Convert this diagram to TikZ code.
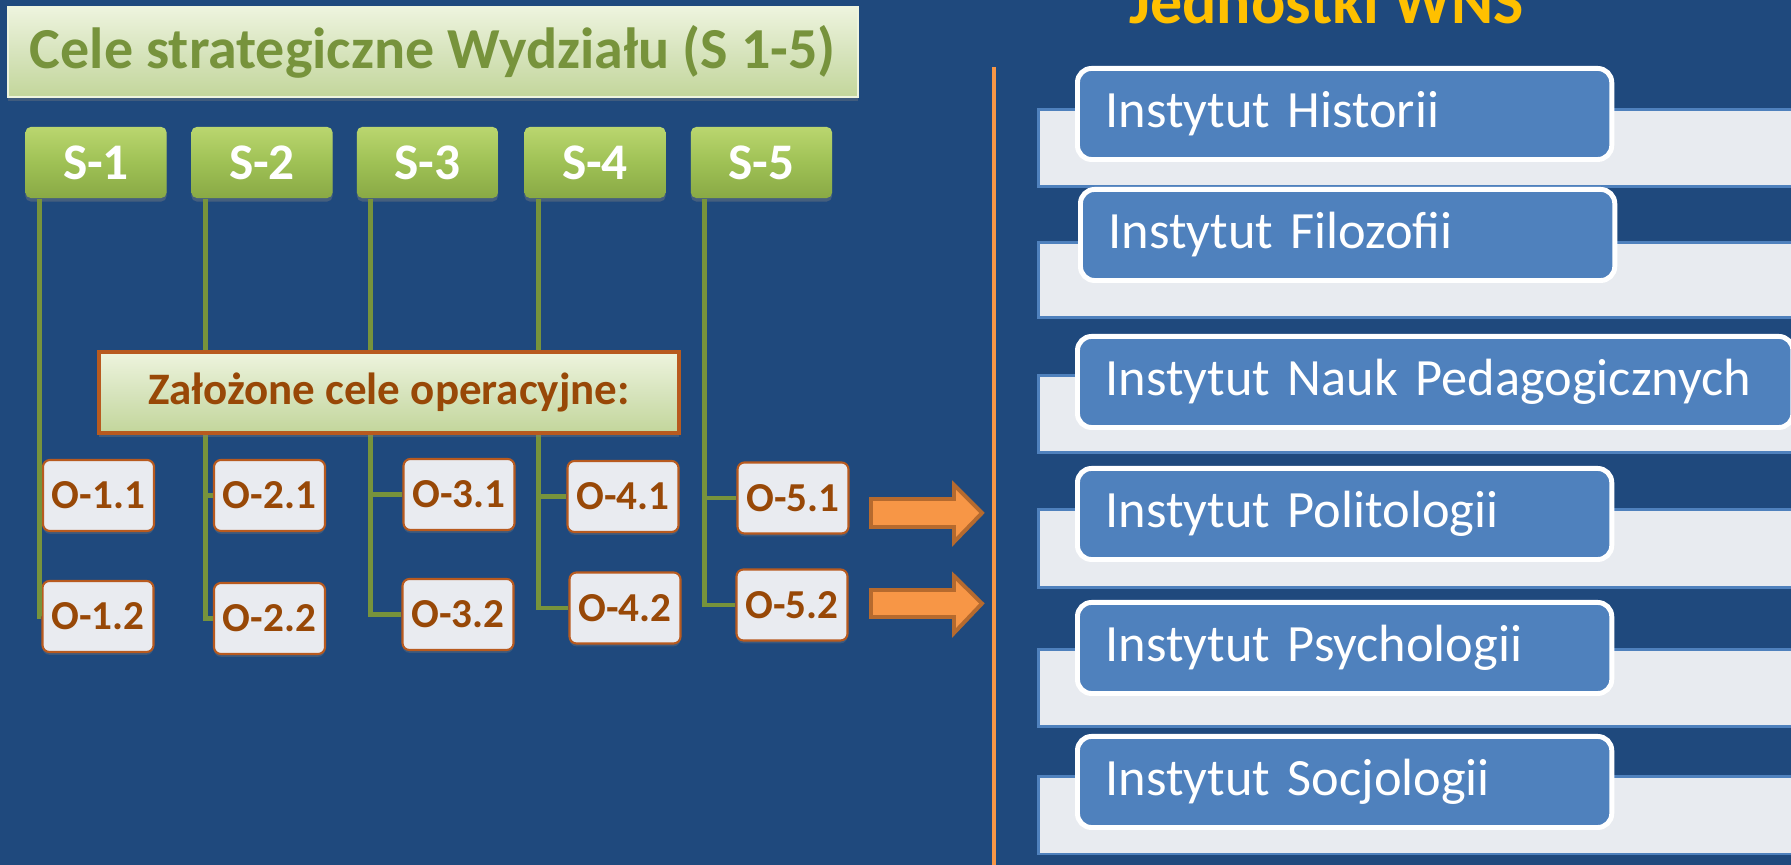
\documentclass[tikz,border=0pt]{standalone}
\usepackage{fontspec}
\setmainfont{Carlito}
\usetikzlibrary{shadows}

\definecolor{tlo}{HTML}{1F497D}
\definecolor{jasnaziel}{HTML}{D7E4BD}
\definecolor{jasnazielgora}{HTML}{EEF4DE}
\definecolor{jasnazieldol}{HTML}{C3D69B}
\definecolor{oliwka}{HTML}{77933C}
\definecolor{zielgora}{HTML}{BAD66F}
\definecolor{zielsrodek}{HTML}{9FC155}
\definecolor{zieldol}{HTML}{89A945}
\definecolor{brazowy}{HTML}{984807}
\definecolor{obrzeze}{HTML}{B85A1F}
\definecolor{oszary}{HTML}{E9EBF0}
\definecolor{pomarancz}{HTML}{F79646}
\definecolor{pomarancztlo}{HTML}{B66A2E}
\definecolor{niebieski}{HTML}{4F81BD}
\definecolor{szary}{HTML}{E8EBF0}
\definecolor{zolty}{HTML}{FFC000}

\begin{document}
\begin{tikzpicture}[x=0.01cm,y=-0.01cm,
  tytul/.style={draw=jasnazielgora, line width=0.5pt, top color=jasnazielgora, bottom color=jasnazieldol, middle color=jasnaziel,
    inner sep=0pt, drop shadow={shadow xshift=0pt, shadow yshift=-1.2pt, opacity=0.35}},
  celS/.style={rounded corners=1.5pt, top color=zielgora, bottom color=zieldol, middle color=zielsrodek,
    minimum width=1.41cm, minimum height=0.71cm, inner sep=0pt, text=white,
    font=\fontsize{14.6}{16}\selectfont\bfseries,
    drop shadow={shadow xshift=0pt, shadow yshift=-1pt, opacity=0.4}},
  celO/.style={draw=obrzeze, line width=0.6pt, fill=oszary, rounded corners=2pt,
    minimum width=1.11cm, minimum height=0.71cm, inner sep=0pt, text=brazowy,
    font=\fontsize{11.7}{13}\selectfont\bfseries,
    drop shadow={shadow xshift=0pt, shadow yshift=-0.8pt, opacity=0.3}},
  link/.style={draw=oliwka, line width=1.4pt},
  strzalka/.style={fill=pomarancz, draw=pomarancztlo, line width=1.1pt},
  pasek/.style={fill=szary, draw=niebieski, line width=0.85pt},
  inst/.style={anchor=north west, fill=niebieski, draw=white, line width=1.4pt, rounded corners=4pt,
    inner xsep=0.28cm, inner ysep=0pt, minimum height=0.91cm, text=white, align=left,
    font=\fontsize{14.9}{17}\selectfont}]

\useasboundingbox (0,0) rectangle (1791,865);
\clip (0,0) rectangle (1791,865);
\fill[tlo] (0,0) rectangle (1791,865);

\node[tytul, minimum width=8.5cm, minimum height=0.9cm, text=oliwka, font=\fontsize{16.5}{19}\selectfont\bfseries]
  (cele) at (433,52) {Cele strategiczne Wydziału (S 1-5)};

\node[celS] (s1) at (96,162.5) {S-1};
\node[celS] (s2) at (262,162.5) {S-2};
\node[celS] (s3) at (427.5,162.5) {S-3};
\node[celS] (s4) at (595,162.5) {S-4};
\node[celS] (s5) at (761.5,162.5) {S-5};

\node[celO] (o11) at (98.5,495.5) {O-1.1};
\node[celO] (o21) at (269.5,495.5) {O-2.1};
\node[celO] (o31) at (459,494.5) {O-3.1};
\node[celO] (o41) at (623,496.5) {O-4.1};
\node[celO] (o51) at (793,498) {O-5.1};
\node[celO] (o12) at (98,616.5) {O-1.2};
\node[celO] (o22) at (269.5,618.5) {O-2.2};
\node[celO] (o32) at (458,614.5) {O-3.2};
\node[celO] (o42) at (625,608) {O-4.2};
\node[celO] (o52) at (792,605) {O-5.2};

\draw[link] (s1.south west) ++(14.5,0) |- (o12.west);
\draw[link] (s1.south west) ++(14.5,0) |- (o11.west);
\draw[link] (s2.south west) ++(14.5,0) |- (o22.west);
\draw[link] (s2.south west) ++(14.5,0) |- (o21.west);
\draw[link] (s3.south west) ++(14.5,0) |- (o32.west);
\draw[link] (s3.south west) ++(14.5,0) |- (o31.west);
\draw[link] (s4.south west) ++(14.5,0) |- (o42.west);
\draw[link] (s4.south west) ++(14.5,0) |- (o41.west);
\draw[link] (s5.south west) ++(14.5,0) |- (o52.west);
\draw[link] (s5.south west) ++(14.5,0) |- (o51.west);

\node[tytul, draw=obrzeze, line width=1pt, minimum width=5.8cm, minimum height=0.81cm, text=brazowy,
  font=\fontsize{12.8}{15}\selectfont\bfseries] (zalozone) at (389,392.5) {Założone cele operacyjne:};

\draw[strzalka] (871,499) -- (954,499) -- (954,485) -- (982,513) -- (954,542) -- (954,527) -- (871,527) -- cycle;
\draw[strzalka] (871,590) -- (954,590) -- (954,576) -- (982,603.5) -- (954,633) -- (954,617) -- (871,617) -- cycle;

\draw[pomarancz, line width=1.4pt] (994,67) -- (994,865);

\node[font=\fontsize{18.2}{21}\selectfont\bfseries, text=zolty, anchor=base] (jednostki) at (1326.5,24) {Jednostki WNS};

\draw[pasek] (1038,110) rectangle (1800,187);
\draw[pasek] (1038,243) rectangle (1800,318);
\draw[pasek] (1038,376) rectangle (1800,453);
\draw[pasek] (1038,510) rectangle (1800,588);
\draw[pasek] (1038,650) rectangle (1800,727);
\draw[pasek] (1038,777) rectangle (1800,854);

\node[inst, text width=4.78cm] (historia) at (1075,66) {Instytut Historii};
\node[inst, text width=4.78cm] (filozofia) at (1078,187) {Instytut Filozofii};
\node[inst, text width=6.59cm] (pedagogika) at (1075,334) {Instytut Nauk Pedagogicznych};
\node[inst, text width=4.78cm] (politologia) at (1075,466) {Instytut Politologii};
\node[inst, text width=4.78cm] (psychologia) at (1075,600) {Instytut Psychologii};
\node[inst, text width=4.78cm] (socjologia) at (1075,734) {Instytut Socjologii};

\end{tikzpicture}
\end{document}
